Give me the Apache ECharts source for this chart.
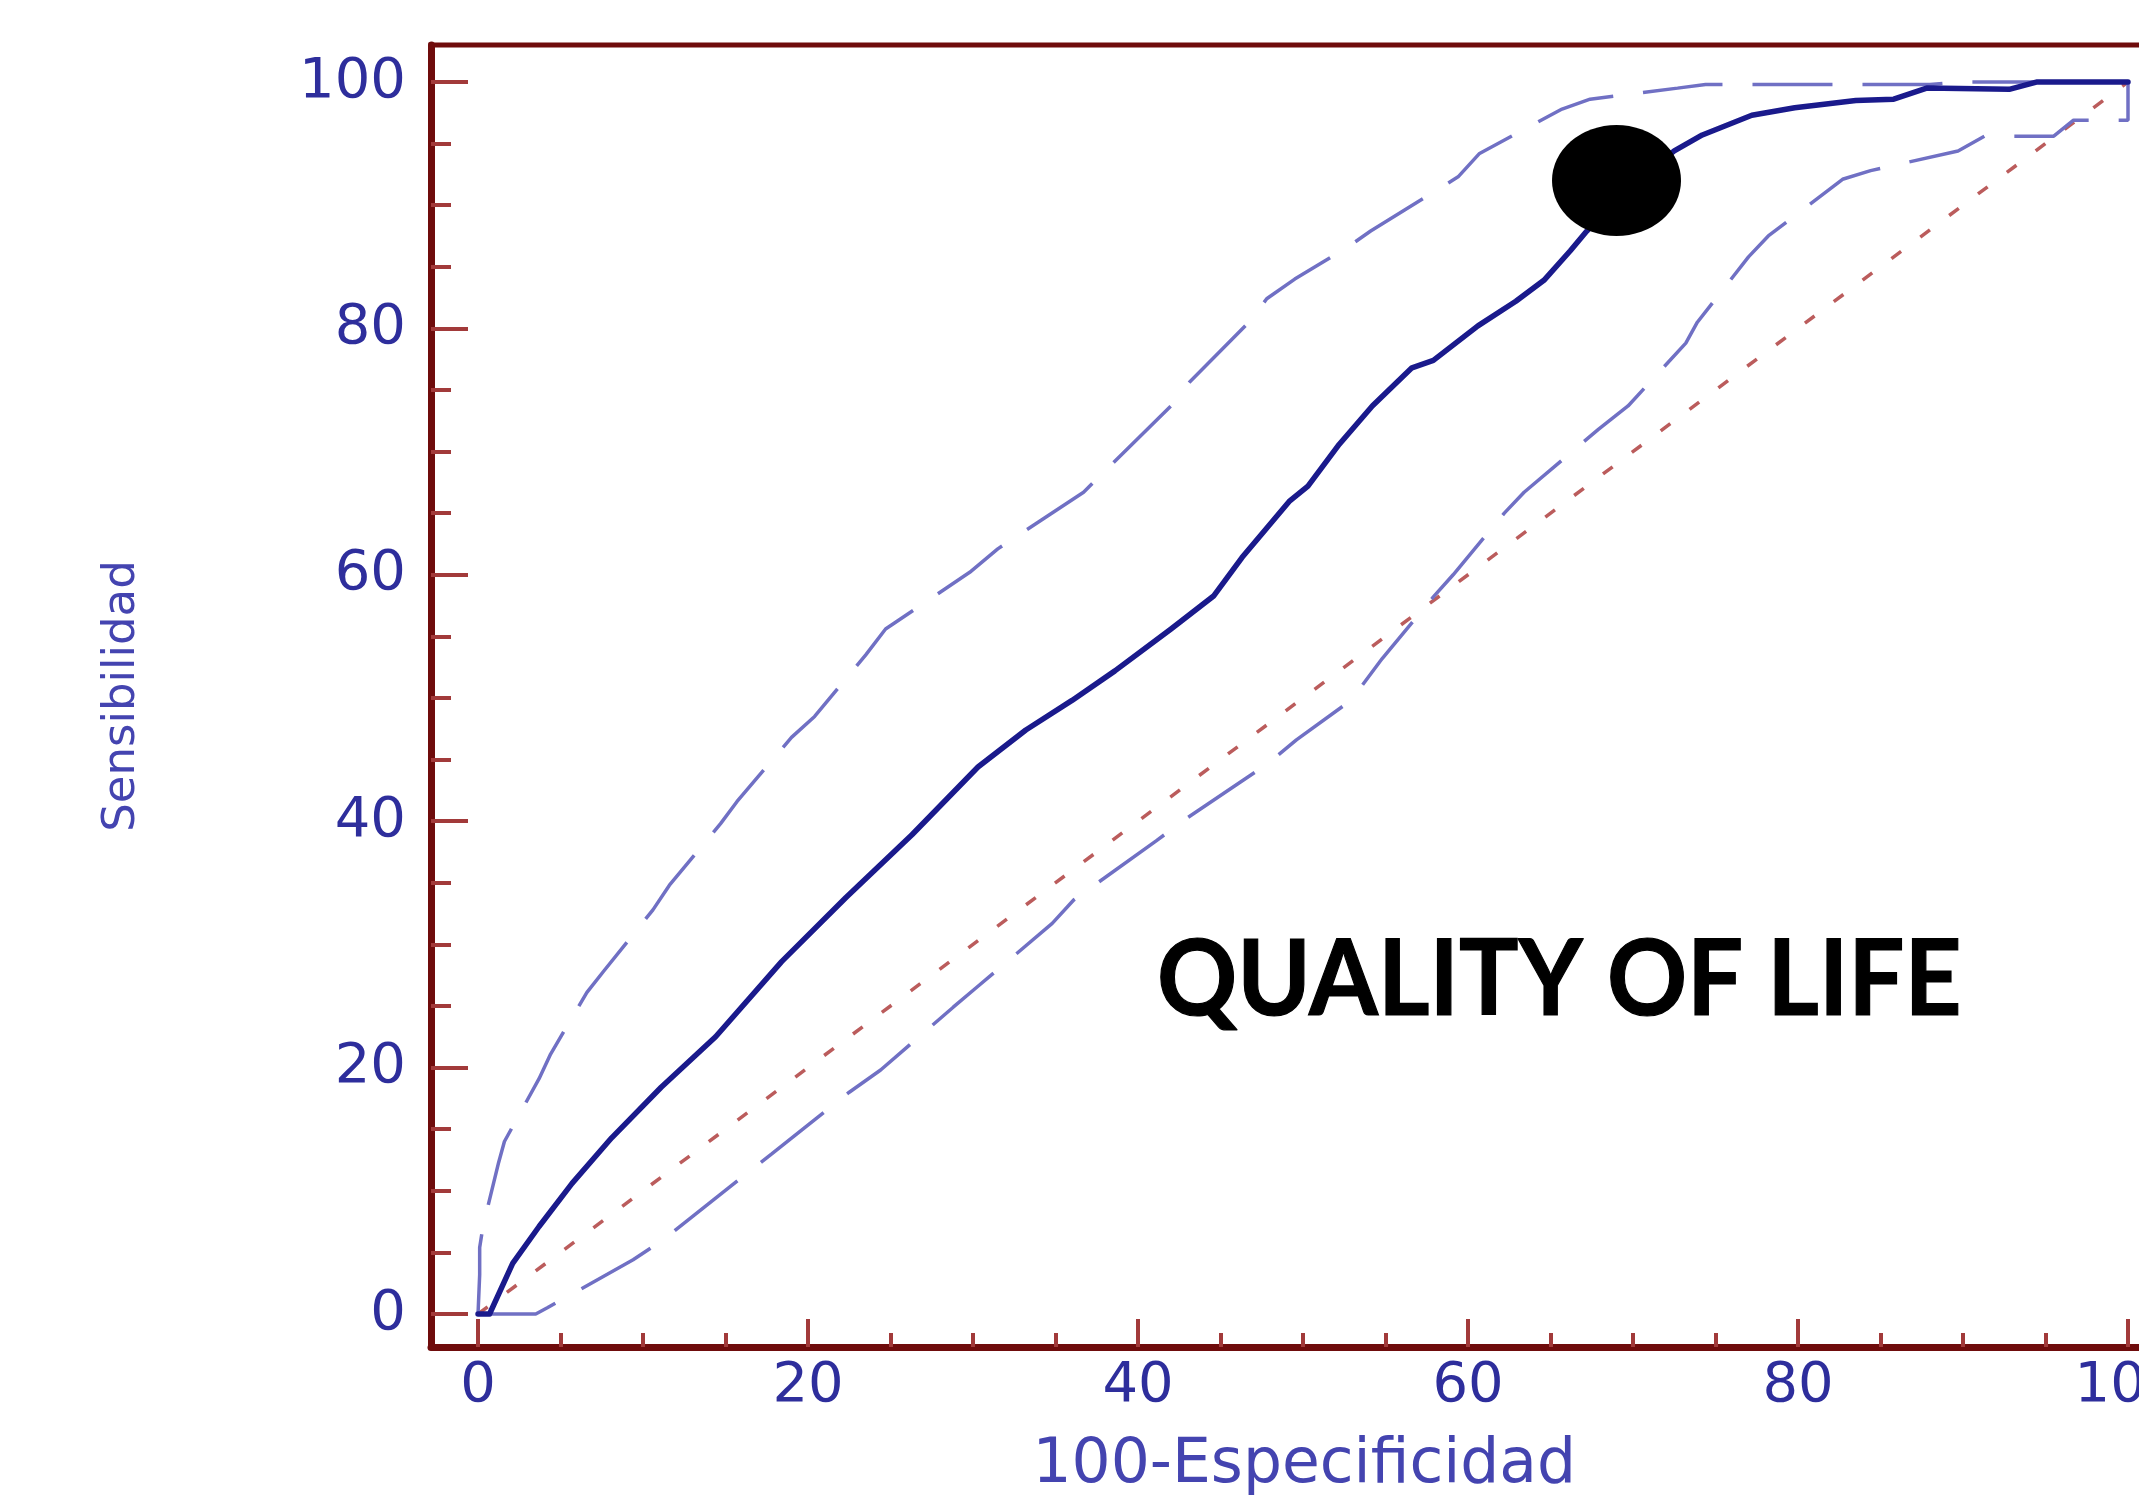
<!DOCTYPE html>
<html>
<head>
<meta charset="utf-8">
<script src="https://cdn.jsdelivr.net/npm/echarts@6/dist/echarts.min.js"></script>
<style>
html,body{margin:0;padding:0;background:#fff;overflow:hidden;}
#c{width:2139px;height:1495px;}
</style>
</head>
<body>
<div id="c"></div>
<script>
// ---- data ----
const xMajorTicks = [0, 20, 40, 60, 80, 100];
const xMinorTicks = [5, 10, 15, 25, 30, 35, 45, 50, 55, 65, 70, 75, 85, 90, 95];
const yMajorTicks = [0, 20, 40, 60, 80, 100];
const yMinorTicks = [5, 10, 15, 25, 30, 35, 45, 50, 55, 65, 70, 75, 85, 90, 95];

const xTitle = '100-Especificidad';
const yTitle = 'Sensibilidad';
const annotationText = 'QUALITY OF LIFE';

// ROC curve (100-specificity, sensitivity)
const rocCurve = [
  [0, 0], [0.7, 0], [2.1, 4.1], [3.7, 7.1], [5.7, 10.6], [8.1, 14.3], [11.1, 18.4],
  [14.4, 22.5], [18.4, 28.6], [22.3, 33.8], [26.3, 38.9], [30.3, 44.4], [33.2, 47.4],
  [36.0, 49.8], [38.6, 52.2], [42.0, 55.6], [44.6, 58.3], [46.3, 61.4], [49.2, 66.0],
  [50.3, 67.2], [52.2, 70.6], [54.2, 73.7], [56.6, 76.8], [57.9, 77.4], [60.6, 80.2],
  [62.9, 82.2], [64.6, 83.9], [66.2, 86.3], [67.2, 87.9], [69.5, 91.2], [72.5, 94.4],
  [74.2, 95.7], [77.2, 97.3], [79.8, 97.9], [83.5, 98.5], [85.8, 98.6], [87.8, 99.5],
  [92.8, 99.4], [94.5, 100], [100, 100]
];

// upper 95% confidence bound
const upperCI = [
  [0, 0], [0.1, 3.2], [0.1, 5.4], [0.3, 7.1], [1.25, 12.3], [1.6, 14.0], [3.7, 19.1],
  [4.4, 21.1], [6.6, 26.1], [7.6, 27.8], [10.6, 32.8], [11.6, 34.8], [14.7, 39.8],
  [15.7, 41.6], [19.0, 46.8], [20.4, 48.5], [23.5, 53.5], [24.7, 55.6], [29.8, 60.2],
  [31.5, 62.1], [36.7, 66.7], [38.2, 68.7], [42.0, 73.7], [43.1, 75.6], [46.8, 80.6],
  [47.8, 82.4], [49.5, 84.0], [52.6, 86.5], [54.1, 87.9], [59.4, 92.3], [60.7, 94.2],
  [65.7, 97.8], [67.4, 98.6], [72.7, 99.5], [74.4, 99.8], [88.0, 99.8], [90.0, 100],
  [100, 100]
];

// lower 95% confidence bound
const lowerCI = [
  [0, 0], [3.5, 0], [4.2, 0.5], [9.4, 4.4], [11.2, 6.0], [16.0, 11.1], [17.8, 13.0],
  [22.5, 18.0], [24.4, 19.8], [28.8, 24.9], [30.3, 26.6], [34.8, 31.7], [36.1, 33.6],
  [41.1, 38.4], [42.8, 40.1], [47.9, 44.7], [49.6, 46.6], [52.9, 49.8], [54.8, 53.2],
  [57.9, 58.2], [59.1, 60.0], [62.2, 65.0], [63.4, 66.7], [67.9, 71.8], [69.7, 73.7],
  [73.2, 78.8], [73.9, 80.5], [77.0, 85.8], [78.2, 87.5], [82.7, 92.1], [84.4, 92.8],
  [89.7, 94.4], [91.3, 95.6], [95.5, 95.6], [96.7, 96.9], [100, 96.9], [100, 100]
];

// reference (chance) diagonal
const diagonal = [[0, 0], [100, 100]];

// highlighted cut-off point
const cutPoint = [[69, 92]];

// ---- chart ----
const X_MIN = -2.85, X_MAX = 103;
const Y_MIN = -2.68, Y_MAX = 103;

const AXIS_RED = '#6f0c0c';
const TICK_RED = '#a23a3a';
const LABEL_BLUE = '#2e2e9c';
const TITLE_BLUE = '#4444b0';

const chart = echarts.init(document.getElementById('c'), null, {renderer: 'canvas'});

const labelStyle = {
  fontFamily: 'DejaVu Sans',
  fontSize: 56,
  color: LABEL_BLUE
};

function minorAxis(values, length) {
  return {
    axisLine: {show: false, onZero: false},
    axisTick: {show: true, inside: true, length: length, customValues: values,
               lineStyle: {color: TICK_RED, width: 4}},
    axisLabel: {show: false},
    splitLine: {show: false}
  };
}

chart.setOption({
  animation: false,
  backgroundColor: '#ffffff',
  grid: {
    left: 431, top: 45, width: 1746.5, height: 1302,
    outerBoundsMode: 'none', containLabel: false,
    show: true, borderColor: AXIS_RED, borderWidth: 5, backgroundColor: 'transparent'
  },
  xAxis: [
    {
      type: 'value', min: X_MIN, max: X_MAX, position: 'bottom',
      name: xTitle, nameLocation: 'middle', nameGap: 88,
      nameTextStyle: {fontFamily: 'DejaVu Sans', fontSize: 61.5, color: TITLE_BLUE},
      axisLine: {show: true, onZero: false, lineStyle: {color: AXIS_RED, width: 7}},
      axisTick: {show: true, inside: true, length: 28, customValues: xMajorTicks,
                 lineStyle: {color: TICK_RED, width: 4}},
      axisLabel: Object.assign({show: true, margin: 11, customValues: xMajorTicks}, labelStyle),
      splitLine: {show: false}
    },
    Object.assign({type: 'value', min: X_MIN, max: X_MAX, position: 'bottom'},
                  minorAxis(xMinorTicks, 14))
  ],
  yAxis: [
    {
      type: 'value', min: Y_MIN, max: Y_MAX, position: 'left',
      name: yTitle, nameLocation: 'middle', nameGap: 286, nameRotate: 90,
      nameTextStyle: {fontFamily: 'DejaVu Sans', fontSize: 45, color: TITLE_BLUE},
      axisLine: {show: true, onZero: false, lineStyle: {color: AXIS_RED, width: 7}},
      axisTick: {show: true, inside: true, length: 37, customValues: yMajorTicks,
                 lineStyle: {color: TICK_RED, width: 4}},
      axisLabel: Object.assign({show: true, margin: 25, customValues: yMajorTicks,
                                padding: [0, 0, 14, 0]}, labelStyle),
      splitLine: {show: false}
    },
    Object.assign({type: 'value', min: Y_MIN, max: Y_MAX, position: 'left'},
                  minorAxis(yMinorTicks, 20))
  ],
  series: [
    {
      type: 'line', data: diagonal, xAxisIndex: 0, yAxisIndex: 0,
      symbol: 'none', z: 1, silent: true,
      lineStyle: {color: '#bb5c5c', width: 3.5, type: [12, 24]}
    },
    {
      type: 'line', data: upperCI, xAxisIndex: 0, yAxisIndex: 0,
      symbol: 'none', z: 2, silent: true,
      lineStyle: {color: '#7070c4', width: 3.5, type: [80, 30]}
    },
    {
      type: 'line', data: lowerCI, xAxisIndex: 0, yAxisIndex: 0,
      symbol: 'none', z: 2, silent: true,
      lineStyle: {color: '#7070c4', width: 3.5, type: [80, 30]}
    },
    {
      type: 'line', data: rocCurve, xAxisIndex: 0, yAxisIndex: 0,
      symbol: 'none', z: 3, silent: true,
      lineStyle: {color: '#1a1a8c', width: 5.5, join: 'round', cap: 'round'}
    },
    {
      type: 'scatter', data: cutPoint, xAxisIndex: 0, yAxisIndex: 0,
      symbol: 'circle', symbolSize: [129, 111], z: 5, silent: true,
      itemStyle: {color: '#000000', opacity: 1}
    }
  ],
  graphic: [
    {
      type: 'text', x: 1157, y: 929, scaleX: 0.945, scaleY: 1, z: 10, silent: true,
      style: {text: annotationText, font: 'bold 105px Lato', fill: '#000000',
              stroke: '#000000', lineWidth: 1.2}
    }
  ]
});
</script>
</body>
</html>
